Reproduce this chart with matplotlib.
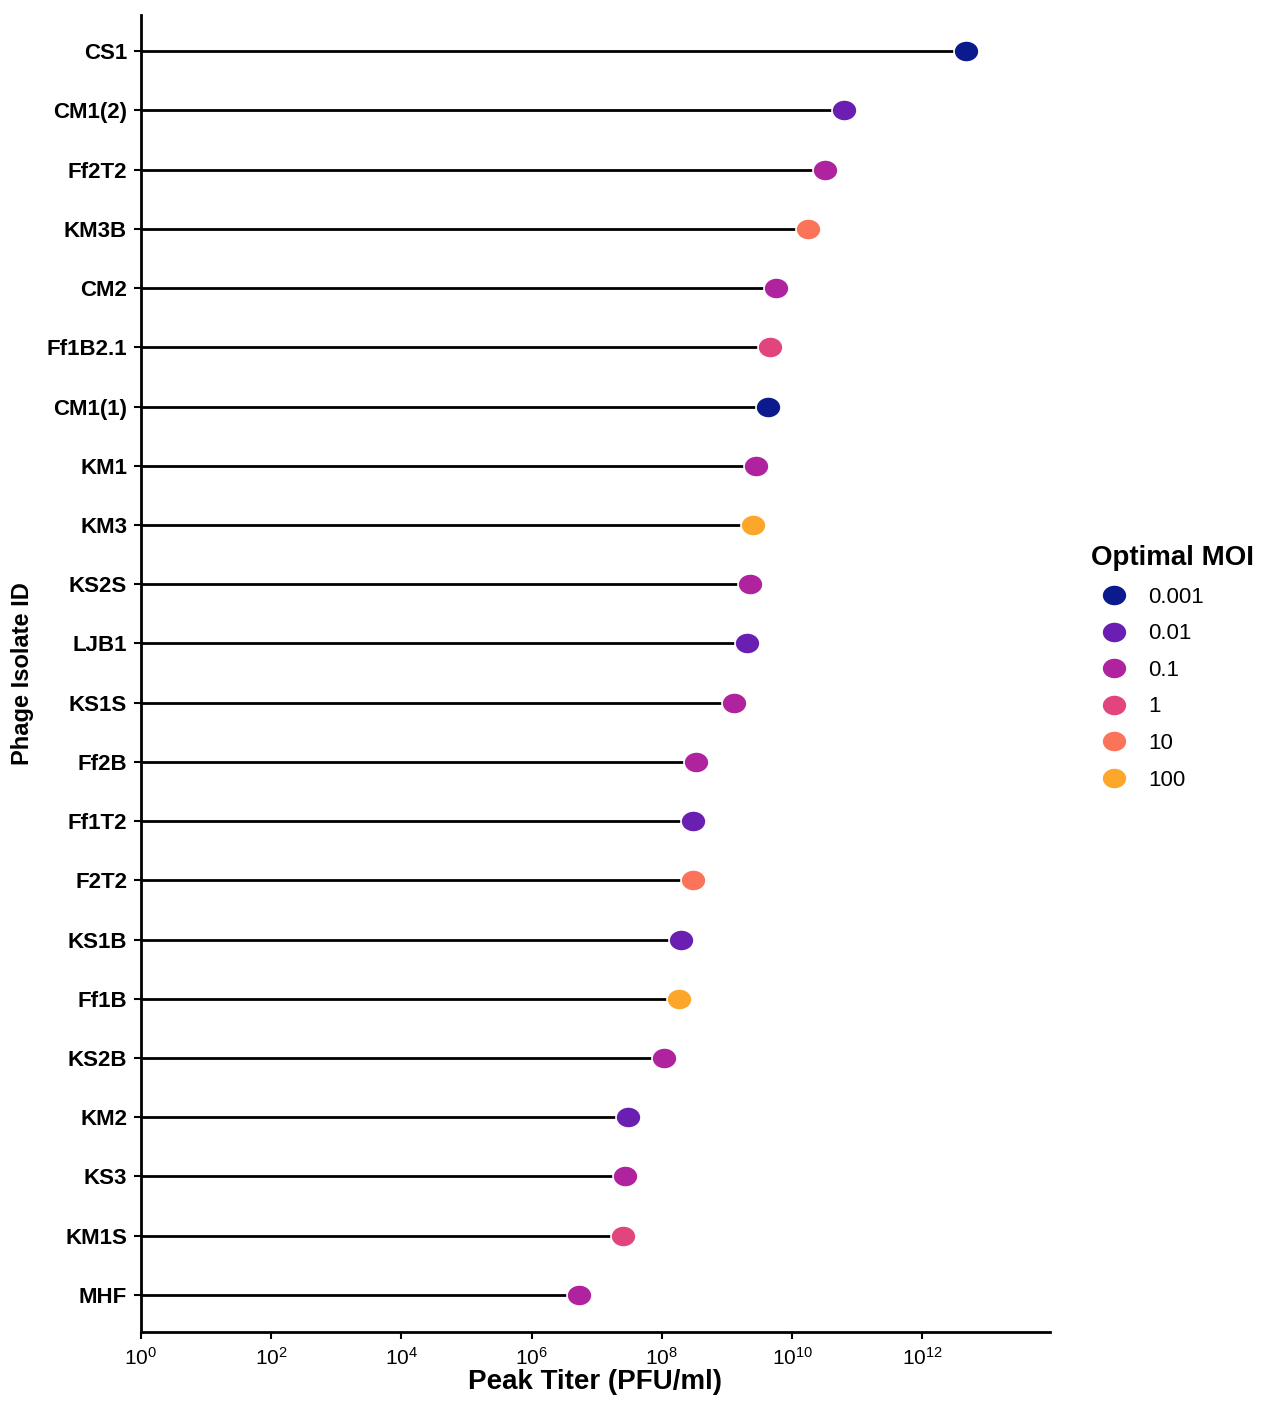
#!/usr/bin/env python3

import numpy as np
import matplotlib
matplotlib.use("Agg")
import matplotlib.pyplot as plt
from matplotlib.path import Path
from matplotlib.lines import Line2D
from matplotlib.ticker import NullLocator

plt.rcParams['font.family'] = ['Liberation Sans', 'DejaVu Sans']
plt.rcParams['mathtext.fontset'] = 'custom'
plt.rcParams['mathtext.rm'] = 'Liberation Sans'
plt.rcParams['mathtext.it'] = 'Liberation Sans:italic'
plt.rcParams['mathtext.bf'] = 'Liberation Sans:bold'

# phages listed top to bottom
phages = ['CS1', 'CM1(2)', 'Ff2T2', 'KM3B', 'CM2', 'Ff1B2.1', 'CM1(1)', 'KM1',
          'KM3', 'KS2S', 'LJB1', 'KS1S', 'Ff2B', 'Ff1T2', 'F2T2', 'KS1B',
          'Ff1B', 'KS2B', 'KM2', 'KS3', 'KM1S', 'MHF']
# log10 of peak titer (PFU/ml)
log_titer = [12.67, 10.80, 10.51, 10.25, 9.75, 9.66, 9.63, 9.45,
             9.40, 9.35, 9.31, 9.11, 8.53, 8.48, 8.48, 8.29,
             8.26, 8.03, 7.48, 7.43, 7.40, 6.73]
moi = ['0.001', '0.01', '0.1', '10', '0.1', '1', '0.001', '0.1',
       '100', '0.1', '0.01', '0.1', '0.1', '0.01', '10', '0.01',
       '100', '0.1', '0.01', '0.1', '1', '0.1']

moi_levels = ['0.001', '0.01', '0.1', '1', '10', '100']
moi_colors = ['#0b1a8c', '#6a1fb2', '#b0239f', '#e2457e', '#fb7358', '#fca62b']
color_map = dict(zip(moi_levels, moi_colors))

# slightly wide ellipse marker, like the stretched dots in the original
circ = Path.unit_circle()
ellipse = Path(circ.vertices * np.array([1.18, 1.0]), circ.codes)


def main():
    fig = plt.figure(figsize=(12.69, 14.04), dpi=100)
    ax = fig.add_axes([0.1111, 0.0513, 0.7163, 0.938])

    n = len(phages)
    ypos = np.arange(n, 0, -1)
    titer = 10.0 ** np.array(log_titer)

    ax.hlines(ypos, 1, titer, color='black', linewidth=2.0, zorder=2)
    for y, t, m in zip(ypos, titer, moi):
        ax.plot(t, y, marker=ellipse, markersize=18, color=color_map[m],
                markeredgecolor='white', markeredgewidth=1.2, linestyle='none',
                zorder=3)

    ax.set_xscale('log')
    ax.set_xlim(1, 10 ** 13.96)
    ax.set_ylim(0.375, n + 0.61)
    ax.set_xticks([10.0 ** k for k in range(0, 13, 2)])
    ax.xaxis.set_minor_locator(NullLocator())

    ax.set_yticks(ypos)
    ax.set_yticklabels(phages, fontsize=16, fontweight='bold')
    ax.tick_params(axis='x', labelsize=15, pad=6)
    ax.tick_params(axis='y', pad=5)
    ax.tick_params(axis='both', direction='out', length=5, width=1.5,
                   color='black')

    for side in ['top', 'right']:
        ax.spines[side].set_visible(False)
    for side in ['left', 'bottom']:
        ax.spines[side].set_linewidth(2.0)

    ax.set_xlabel('Peak Titer (PFU/ml)', fontsize=20, fontweight='bold',
                  labelpad=0)
    ax.set_ylabel('Phage Isolate ID', fontsize=17, fontweight='bold')
    ax.yaxis.set_label_coords(-0.118, 0.5)

    handles = [Line2D([], [], marker=ellipse, markersize=18, color=c,
                      markeredgecolor='white', markeredgewidth=1.2,
                      linestyle='none') for c in moi_colors]
    leg = fig.legend(handles, moi_levels, title='Optimal MOI',
                     loc='upper left', bbox_to_anchor=(0.853, 0.618),
                     frameon=False, fontsize=16, labelspacing=0.7,
                     handletextpad=0.55, borderaxespad=0)
    leg.get_title().set_fontsize(20)
    leg.get_title().set_fontweight('bold')
    leg._legend_box.align = 'left'

    fig.savefig('out.png', dpi=100)
    plt.close(fig)


if __name__ == '__main__':
    main()
